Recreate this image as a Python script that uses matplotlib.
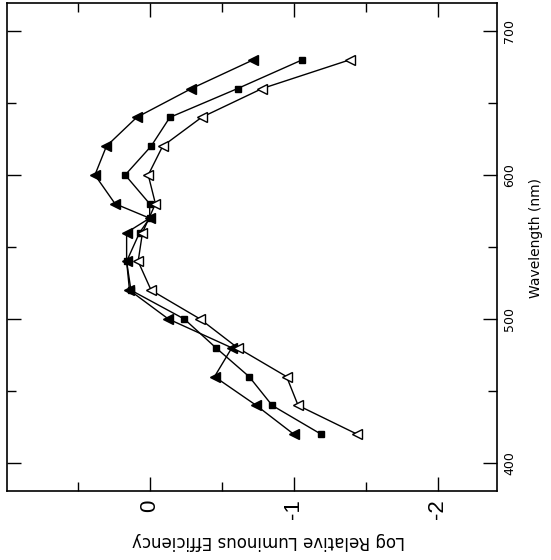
import matplotlib
matplotlib.use("Agg")
import matplotlib.pyplot as plt
from matplotlib.ticker import FixedLocator, FixedFormatter, NullFormatter

# wavelength (nm) and log relative luminous efficiency
wl_a = [420, 440, 460, 480, 500, 520, 540, 560, 570, 580, 600, 620, 640, 660, 680]
eff_a = [-1.00, -0.74, -0.45, -0.57, -0.13, 0.14, 0.16, 0.16, 0.00, 0.24, 0.38, 0.30, 0.09, -0.29, -0.72]

wl_b = [420, 440, 460, 480, 500, 520, 540, 560, 570, 580, 600, 620, 640, 660, 680]
eff_b = [-1.19, -0.85, -0.69, -0.46, -0.24, 0.13, 0.16, 0.07, 0.00, 0.00, 0.17, -0.01, -0.14, -0.61, -1.06]

wl_c = [420, 440, 460, 480, 500, 520, 540, 560, 580, 600, 620, 640, 660, 680]
eff_c = [-1.44, -1.03, -0.95, -0.61, -0.35, -0.01, 0.08, 0.05, -0.04, 0.01, -0.09, -0.36, -0.78, -1.39]

eff_major = [0, -1, -2]
eff_labels = ["0", "-1", "-2"]
eff_minor = [0.5, -0.5, -1.5]
wl_major = [400, 500, 600, 700]
wl_labels = ["400", "500", "600", "700"]
wl_minor = [450, 550, 650]

fig = plt.figure(figsize=(5.51, 5.60), dpi=100)
ax = fig.add_axes([7 / 551, 1 - 491 / 560, 490 / 551, 488 / 560])

# the figure is drawn turned a quarter turn: efficiency across, wavelength up
ax.plot(eff_a, wl_a, color="black", lw=1.0, marker="<", ms=7, mfc="black", mec="black")
ax.plot(eff_b, wl_b, color="black", lw=1.0, marker="s", ms=5, mfc="black", mec="black")
ax.plot(eff_c, wl_c, color="black", lw=1.0, marker="<", ms=7.5, mfc="white", mec="black", mew=1.0)

ax.set_xlim(0.99, -2.41)
ax.set_ylim(380.6, 719.4)

ax.xaxis.set_major_locator(FixedLocator(eff_major))
ax.xaxis.set_major_formatter(FixedFormatter(eff_labels))
ax.xaxis.set_minor_locator(FixedLocator(eff_minor))
ax.xaxis.set_minor_formatter(NullFormatter())
ax.yaxis.set_major_locator(FixedLocator(wl_major))
ax.yaxis.set_major_formatter(FixedFormatter(wl_labels))
ax.yaxis.set_minor_locator(FixedLocator(wl_minor))
ax.yaxis.set_minor_formatter(NullFormatter())

ax.tick_params(which="both", direction="in", top=True, bottom=True, left=True, right=True,
               labelleft=False, labelright=True, labelbottom=True, width=1.0)
ax.tick_params(which="major", length=10)
ax.tick_params(which="minor", length=6.5)
ax.tick_params(axis="y", labelsize=9, pad=4.5, labelrotation=90)
ax.tick_params(axis="x", labelsize=16, pad=6, labelrotation=90, labelfontfamily="Liberation Sans")
for t in ax.get_yticklabels():
    t.set_va("center")

for s in ax.spines.values():
    s.set_linewidth(1.2)

ax.set_xlabel("Log Relative Luminous Efficiency", fontsize=12, rotation=180, va="center")
ax.xaxis.set_label_coords((269 - 7) / 490, (491 - 541) / 488)
ax.yaxis.set_label_position("right")
ax.set_ylabel("Wavelength (nm)", fontsize=10, rotation=90, va="center")
ax.yaxis.set_label_coords((536 - 7) / 490, (491 - 238) / 488)

fig.savefig("out.png", dpi=100)
